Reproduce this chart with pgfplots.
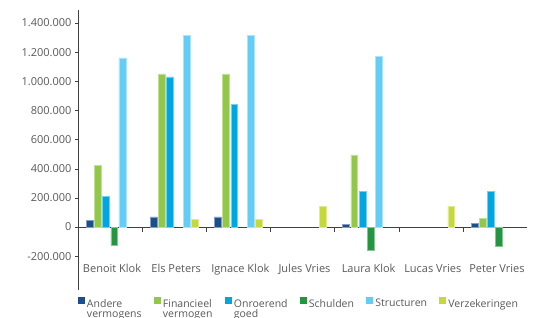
\documentclass[border=0pt]{standalone}
\usepackage{pgfplots}
\pgfplotsset{compat=1.18}
\usepackage{fontspec}
\setmainfont{Open Sans}
\definecolor{cA}{HTML}{1C4E8F}
\definecolor{cF}{HTML}{92C74A}
\definecolor{cO}{HTML}{00A6E2}
\definecolor{cS}{HTML}{23963F}
\definecolor{cT}{HTML}{63CDF5}
\definecolor{cV}{HTML}{C5D93A}
\definecolor{txt}{HTML}{595959}
\definecolor{axc}{HTML}{404040}
\newcommand{\two}[2]{\vtop{\baselineskip=10pt\hbox{#1}\hbox{#2}}}
\begin{document}
\begin{tikzpicture}
\begin{axis}[
  scale only axis, width=449pt, height=280pt,
  xmin=-0.5, xmax=6.5, ymin=-432000, ymax=1489000,
  axis y line=left, axis x line=middle,
  hide obscured x ticks=false, hide obscured y ticks=false,
  x axis line style={-, color=axc}, y axis line style={-, color=axc},
  ybar=1.4pt, bar width=6.8pt,
  xtick={0,...,6},
  xticklabels={Benoit Klok,Els Peters,Ignace Klok,Jules Vries,Laura Klok,Lucas Vries,Peter Vries},
  major x tick style={draw=none},
  minor xtick={0.5,1.5,...,5.5},
  minor x tick style={color=axc},
  minor tick length=5pt,
  xtick align=outside,
  xticklabel style={yshift=-31pt, xshift=2pt, font=\fontsize{11}{13}\selectfont, text=txt},
  ytick={-200000,0,...,1400000},
  ytick align=outside, major y tick style={color=axc}, major tick length=3pt,
  yticklabel style={font=\fontsize{11}{13}\selectfont, text=txt},
  scaled y ticks=false,
  /pgf/number format/.cd, fixed, 1000 sep={.}, assume math mode=true,
  /pgfplots/.cd,
  legend columns=6,
  legend style={at={(axis description cs:0,0)}, anchor=north west, yshift=-5pt, xshift=-3.5pt,
    draw=none, font=\fontsize{10.5}{10}\selectfont, text=txt,
    nodes={inner xsep=1.5pt},
    /tikz/every odd column/.append style={column sep=0.8pt},
    /tikz/every even column/.append style={column sep=10.5pt}},
  legend image code/.code={\fill[#1,draw=none] (0pt,-0.5pt) rectangle (7pt,6.5pt);},
]
\addplot[fill=cA, draw=cA!55!white, line width=0.5pt] coordinates {(0,48000) (1,70000) (2,70000) (4,20000) (6,25000)};
\addplot[fill=cF, draw=cF!55!white, line width=0.5pt] coordinates {(0,425000) (1,1050000) (2,1050000) (4,495000) (6,60000)};
\addplot[fill=cO, draw=cO!55!white, line width=0.5pt] coordinates {(0,210000) (1,1030000) (2,840000) (4,245000) (6,245000)};
\addplot[fill=cS, draw=cS!55!white, line width=0.5pt] coordinates {(0,-125000) (4,-160000) (6,-135000)};
\addplot[fill=cT, draw=cT!55!white, line width=0.5pt] coordinates {(0,1160000) (1,1315000) (2,1315000) (4,1170000)};
\addplot[fill=cV, draw=cV!55!white, line width=0.5pt] coordinates {(1,55000) (2,55000) (3,142000) (5,142000)};
\legend{\two{Andere}{vermogens}, \two{Financieel}{vermogen}, \two{Onroerend}{goed}, Schulden, Structuren, Verzekeringen}
\coordinate (SW) at (axis description cs:0,0);
\end{axis}
\pgfresetboundingbox
\path[use as bounding box] ([shift={(-78pt,-28pt)}]SW) rectangle ([shift={(458pt,290pt)}]SW);
\end{tikzpicture}
\end{document}
